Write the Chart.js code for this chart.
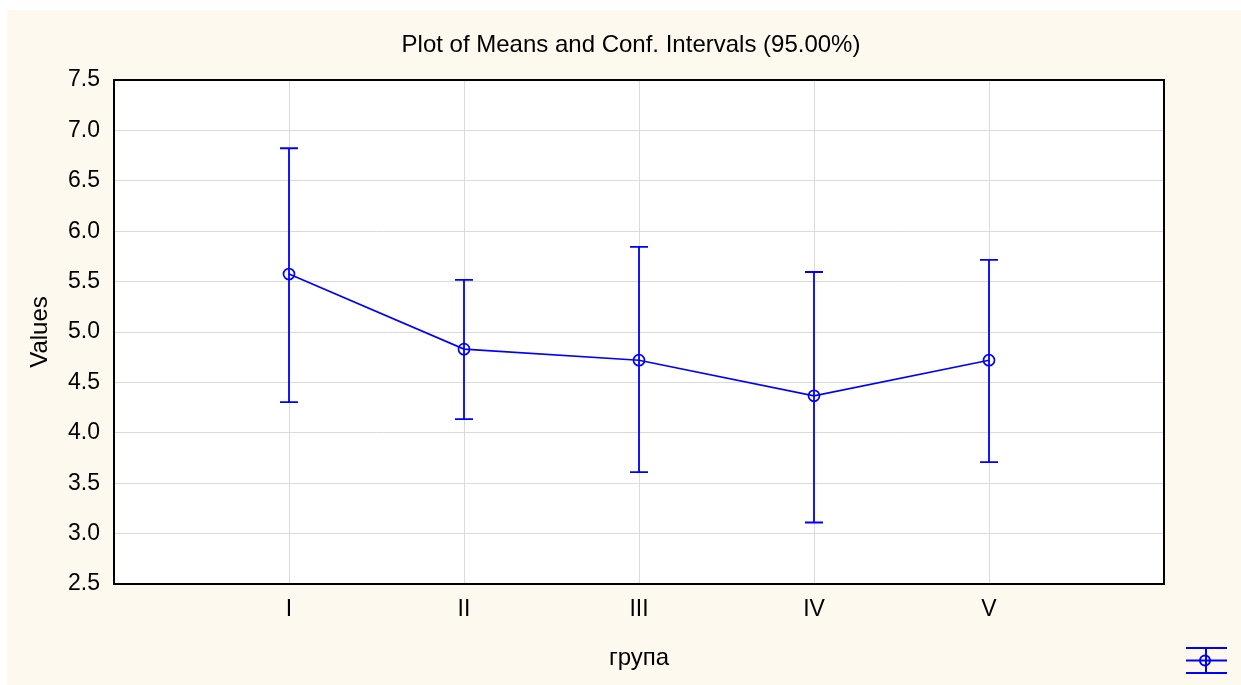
<!DOCTYPE html>
<html>
<head>
<meta charset="utf-8">
<script src="https://cdn.jsdelivr.net/npm/chart.js@4/dist/chart.umd.min.js"></script>
<style>
  html, body { margin: 0; padding: 0; background: #ffffff; }
  #wrap { position: absolute; left: 7px; top: 10px; width: 1234px; height: 675px; background: #fef9ef; }
  canvas { display: block; }
</style>
</head>
<body>
<div id="wrap"><canvas id="c"></canvas></div>
<script>
// ---- data ----
const groups = ['I', 'II', 'III', 'IV', 'V'];
const means  = [5.575, 4.83, 4.72, 4.367, 4.72];
const lower  = [4.305, 4.136, 3.61, 3.11, 3.71];
const upper  = [6.823, 5.518, 5.845, 5.595, 5.715];
const titleText = 'Plot of Means and Conf. Intervals (95.00%)';
const xTitle = 'група';
const yTitle = 'Values';

const FONT = "'Liberation Sans', Arial, sans-serif";
const BLUE = '#0000ff';

const points = means.map((m, i) => ({ x: i + 1, y: m }));

const plotBg = {
  id: 'plotBg',
  beforeDraw(chart) {
    const { ctx, chartArea: a } = chart;
    ctx.save();
    ctx.fillStyle = '#ffffff';
    ctx.fillRect(a.left, a.top, a.right - a.left, a.bottom - a.top);
    ctx.restore();
  }
};

const errorBars = {
  id: 'errorBars',
  afterDatasetsDraw(chart) {
    const { ctx, scales: { x, y } } = chart;
    ctx.save();
    ctx.strokeStyle = BLUE;
    ctx.lineWidth = 1.8;
    groups.forEach((g, i) => {
      const px = x.getPixelForValue(i + 1);
      const yl = y.getPixelForValue(lower[i]);
      const yu = y.getPixelForValue(upper[i]);
      ctx.beginPath();
      ctx.moveTo(px, yl); ctx.lineTo(px, yu);
      ctx.moveTo(px - 9, yl); ctx.lineTo(px + 9, yl);
      ctx.moveTo(px - 9, yu); ctx.lineTo(px + 9, yu);
      ctx.stroke();
    });
    ctx.restore();
  }
};

const frame = {
  id: 'frame',
  afterDraw(chart) {
    const { ctx, chartArea: a } = chart;
    ctx.save();
    ctx.strokeStyle = '#000';
    ctx.lineWidth = 2;
    ctx.strokeRect(a.left, a.top, a.right - a.left, a.bottom - a.top);
    // legend symbol (bottom-right)
    const w = chart.width, h = chart.height;
    const x1 = w - 55, x2 = w - 14, xm = w - 35;
    const yt = h - 37, ym = h - 24.5, yb = h - 12;
    ctx.strokeStyle = BLUE;
    ctx.lineWidth = 2;
    ctx.beginPath();
    ctx.moveTo(x1, yt); ctx.lineTo(x2, yt);
    ctx.moveTo(x1, ym); ctx.lineTo(x2, ym);
    ctx.moveTo(x1, yb); ctx.lineTo(x2, yb);
    ctx.moveTo(xm, yt); ctx.lineTo(xm, yb);
    ctx.stroke();
    ctx.beginPath();
    ctx.arc(xm - 1, ym, 5, 0, Math.PI * 2);
    ctx.stroke();
    ctx.restore();
  }
};

new Chart(document.getElementById('c'), {
  type: 'line',
  data: {
    datasets: [{
      label: 'Means',
      data: points,
      yAxisID: 'y',
      borderColor: BLUE,
      borderWidth: 1.7,
      tension: 0,
      pointStyle: 'circle',
      pointRadius: 5.5,
      pointBorderWidth: 1.7,
      pointBorderColor: BLUE,
      pointBackgroundColor: 'rgba(0,0,0,0)',
      fill: false
    }]
  },
  options: {
    responsive: true,
    maintainAspectRatio: false,
    animation: false,
    layout: { padding: { left: 14, right: 0, top: 0, bottom: 0 } },
    plugins: {
      legend: { display: false },
      tooltip: { enabled: false },
      title: {
        display: true,
        text: titleText,
        color: '#000',
        font: { family: FONT, size: 24, weight: 'normal', lineHeight: 1.2 },
        padding: { top: 20.6, bottom: 20.6 }
      }
    },
    scales: {
      x: {
        type: 'linear',
        min: 0, max: 6,
        afterFit(s) { s.height = 101; },
        ticks: {
          stepSize: 1,
          color: '#000',
          padding: 12,
          font: { family: FONT, size: 23 },
          callback: (v) => groups[v - 1] !== undefined && Number.isInteger(v) ? groups[v - 1] : ''
        },
        grid: {
          drawTicks: false,
          color: (c) => (c.tick && (c.tick.value === 0 || c.tick.value === 6)) ? 'rgba(0,0,0,0)' : '#dadada',
          lineWidth: 1
        },
        border: { display: false },
        title: {
          display: true, text: xTitle, color: '#000',
          font: { family: FONT, size: 24, lineHeight: 1.2 },
          padding: { top: 0, bottom: 12.6 }
        }
      },
      y: {
        position: 'left',
        min: 2.5, max: 7.5,
        afterFit(s) { s.width = 93; },
        ticks: {
          stepSize: 0.5,
          color: '#000',
          padding: 14,
          font: { family: FONT, size: 23 },
          callback: (v) => Number(v).toFixed(1)
        },
        grid: { drawTicks: false, color: '#dadada', lineWidth: 1 },
        border: { display: false },
        title: {
          display: true, text: yTitle, color: '#000',
          font: { family: FONT, size: 24, lineHeight: 1.2 },
          padding: { top: 4.6, bottom: 0 }
        }
      },
      spacer: {
        type: 'linear',
        position: 'right',
        display: true,
        afterFit(s) { s.width = 77; },
        ticks: { display: false },
        grid: { display: false, drawTicks: false },
        border: { display: false },
        title: { display: false }
      }
    }
  },
  plugins: [plotBg, errorBars, frame]
});
</script>
</body>
</html>
